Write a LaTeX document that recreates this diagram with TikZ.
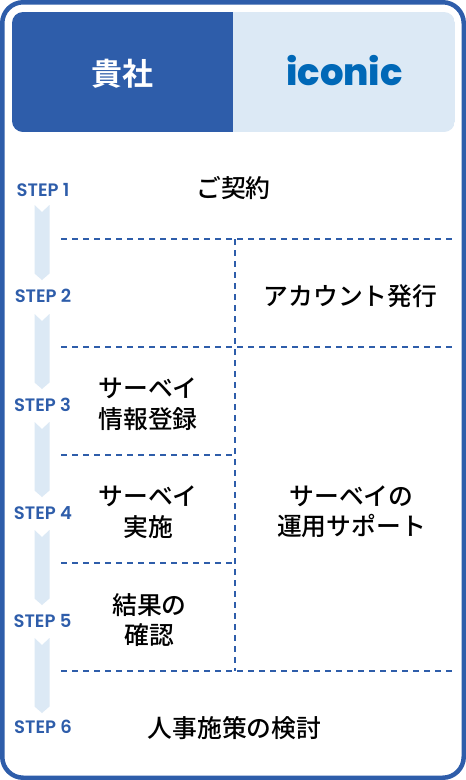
\documentclass[tikz,border=0pt]{standalone}
\usepackage{fontspec}
\newfontfamily\jp{Noto Sans CJK JP Medium}
\newfontfamily\jpb{Noto Sans CJK JP Bold}
\newfontfamily\pop{Poppins SemiBold}
\newfontfamily\popb{Poppins ExtraBold}
\definecolor{brand}{HTML}{2E5DAA}
\definecolor{pale}{HTML}{DCE9F5}
\definecolor{logo}{HTML}{0068B7}
\tikzset{
  x=1pt,y=-1pt,
  steplabel/.style={font=\pop\fontsize{18}{20}\selectfont,text=brand,inner sep=0pt},
  body/.style={font=\jp\fontsize{24.8}{30.5}\selectfont,text=black,align=center,inner sep=0pt},
  divider/.style={draw=brand,line width=1.1pt,dash pattern=on 6pt off 5pt},
  arrowbar/.style={fill=pale,draw=none},
}
\newcommand{\flowarrow}[1]{\fill[arrowbar] (34.5,#1) -- (42,#1+7) -- (49.5,#1) -- (49.5,#1+68.5) -- (42,#1+75) -- (34.5,#1+68.5) -- cycle;}
\begin{document}
\begin{tikzpicture}
\useasboundingbox (0,0) rectangle (466,780);
\draw[brand,line width=4.5pt,fill=white,rounded corners=21pt] (2.25,2.25) rectangle (463.75,777.75);
% header
\begin{scope}
\clip[rounded corners=11pt] (12,12) rectangle (455,132);
\fill[brand] (12,12) rectangle (233,132);
\fill[pale] (233,12) rectangle (455,132);
\end{scope}
\node[inner sep=0pt,text=white,font=\jpb\fontsize{31}{34}\selectfont] (own) at (122.5,74) {貴社};
\node[inner sep=0pt,text=logo,font=\popb\fontsize{37}{40}\selectfont] (iconic) at (344.5,71) {iconic};
% arrows
\flowarrow{205}
\flowarrow{314}
\flowarrow{422}
\flowarrow{530}
\flowarrow{638}
% dividers
\coordinate (h1a) at (61,239); \coordinate (h1b) at (455,239);
\coordinate (h2a) at (61,347); \coordinate (h2b) at (455,347);
\coordinate (h3a) at (61,455); \coordinate (h3b) at (235,455);
\coordinate (h4a) at (61,563); \coordinate (h4b) at (235,563);
\coordinate (h5a) at (61,671); \coordinate (h5b) at (455,671);
\coordinate (va) at (235,239); \coordinate (vb) at (235,671);
\draw[divider] (h1a) -- (h1b);
\draw[divider] (h2a) -- (h2b);
\draw[divider] (h3a) -- (h3b);
\draw[divider] (h4a) -- (h4b);
\draw[divider] (h5a) -- (h5b);
\draw[divider] (va) -- (vb);
% step labels
\node[steplabel] (s1) at (43,190) {STEP 1};
\node[steplabel] (s2) at (43,296) {STEP 2};
\node[steplabel] (s3) at (42.5,404.5) {STEP 3};
\node[steplabel] (s4) at (43,513.5) {STEP 4};
\node[steplabel] (s5) at (42.5,621) {STEP 5};
\node[steplabel] (s6) at (43,727) {STEP 6};
% texts
\node[body] (t1) at (233.5,188) {ご契約};
\node[body] (t2) at (350.5,296) {アカウント発行};
\node[body] (t3) at (148,404) {サーベイ\\情報登録};
\node[body] (t4) at (148,512) {サーベイ\\実施};
\node[body] (t5) at (149.5,620) {結果の\\確認};
\node[body] (t6) at (351.5,512) {サーベイの\\運用サポート};
\node[body] (t7) at (234.5,728) {人事施策の検討};
\end{tikzpicture}
\end{document}
